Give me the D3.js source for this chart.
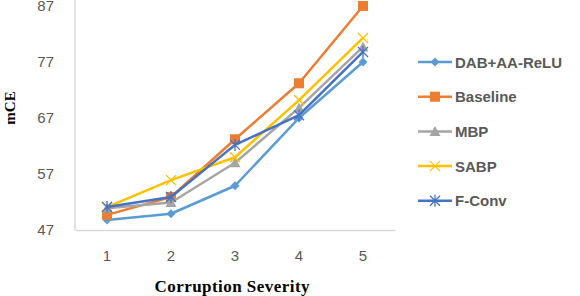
<!DOCTYPE html>
<html>
<head>
<meta charset="utf-8">
<script src="https://cdn.jsdelivr.net/npm/d3@7"></script>
<style>
  body { margin: 0; background: #fff; }
  svg { display: block; }
</style>
</head>
<body>
<svg id="chart" width="580" height="296"></svg>
<script>
// chart data
var severity = ["1", "2", "3", "4", "5"];
var yTicks = [47, 57, 67, 77, 87];
var dabValues = [48.8, 49.9, 54.9, 67.0, 77.0];
var baselineValues = [49.7, 52.9, 63.2, 73.2, 87.0];
var mbpValues = [50.9, 51.9, 59.0, 68.8, 79.7];
var sabpValues = [51.1, 55.9, 60.0, 70.2, 81.3];
var fconvValues = [51.1, 52.9, 62.2, 67.5, 78.8];
var seriesNames = ["DAB+AA-ReLU", "Baseline", "MBP", "SABP", "F-Conv"];

var series = [
  {name: seriesNames[0], values: dabValues, color: "#5B9BD5", marker: "diamond"},
  {name: seriesNames[1], values: baselineValues, color: "#ED7D31", marker: "square"},
  {name: seriesNames[2], values: mbpValues, color: "#A5A5A5", marker: "triangle"},
  {name: seriesNames[3], values: sabpValues, color: "#FFC000", marker: "cross"},
  {name: seriesNames[4], values: fconvValues, color: "#4472C4", marker: "star"}
];

var svg = d3.select("#chart");
var plotLeft = 75, plotRight = 395, plotTop = 6, plotBottom = 230;

var x = d3.scaleBand().domain(severity).range([plotLeft, plotRight]);
var y = d3.scaleLinear().domain([47, 87]).range([plotBottom, plotTop]);

// plot frame: left and bottom lines
svg.append("line")
  .attr("x1", plotLeft).attr("x2", plotLeft).attr("y1", 0).attr("y2", plotBottom)
  .attr("stroke", "#d9d9d9").attr("stroke-width", 1.5);

var xAxis = svg.append("g")
  .attr("transform", "translate(0," + plotBottom + ")")
  .call(d3.axisBottom(x).tickSize(0).tickPadding(20));
xAxis.select(".domain").attr("stroke", "#d9d9d9").attr("stroke-width", 1.5);
xAxis.selectAll("text")
  .attr("fill", "#595959")
  .style("font-family", "'Liberation Sans', Arial, sans-serif")
  .style("font-size", "15px");

var yAxis = svg.append("g")
  .attr("transform", "translate(" + (plotLeft - 21) + ",0)")
  .call(d3.axisLeft(y).tickValues(yTicks).tickSize(0).tickPadding(0));
yAxis.select(".domain").remove();
yAxis.selectAll("text")
  .attr("fill", "#595959")
  .style("font-family", "'Liberation Sans', Arial, sans-serif")
  .style("font-size", "15px");

// axis titles
svg.append("text")
  .attr("transform", "translate(15,108) rotate(-90)")
  .attr("text-anchor", "middle")
  .style("font-family", "'Liberation Serif', 'Times New Roman', serif")
  .style("font-weight", "bold")
  .style("font-size", "15px")
  .text("mCE");

svg.append("text")
  .attr("x", 232)
  .attr("y", 292)
  .attr("text-anchor", "middle")
  .attr("textLength", 155)
  .style("font-family", "'Liberation Serif', 'Times New Roman', serif")
  .style("font-weight", "bold")
  .style("font-size", "17px")
  .text("Corruption  Severity");

function drawMarker(g, type, color) {
  if (type == "diamond") {
    g.append("path").attr("d", "M0,-4.5L4.5,0L0,4.5L-4.5,0Z").attr("fill", color);
  } else if (type == "square") {
    g.append("rect").attr("x", -5).attr("y", -5).attr("width", 10).attr("height", 10).attr("fill", color);
  } else if (type == "triangle") {
    g.append("path").attr("d", "M0,-5.5L5.5,4.5L-5.5,4.5Z").attr("fill", color);
  } else if (type == "cross") {
    g.append("path").attr("d", "M-5,-5L5,5M5,-5L-5,5").attr("stroke", color).attr("stroke-width", 1.3).attr("fill", "none");
  } else {
    g.append("path").attr("d", "M-5,-5L5,5M5,-5L-5,5M0,-6L0,6").attr("stroke", color).attr("stroke-width", 1.3).attr("fill", "none");
  }
}

var line = d3.line()
  .x(function(d, i) { return x(severity[i]) + x.bandwidth() / 2; })
  .y(function(d) { return y(d); });

series.forEach(function(s) {
  svg.append("path")
    .attr("d", line(s.values))
    .attr("fill", "none")
    .attr("stroke", s.color)
    .attr("stroke-width", 2.5)
    .attr("stroke-linejoin", "round");
  s.values.forEach(function(v, i) {
    var g = svg.append("g")
      .attr("transform", "translate(" + (x(severity[i]) + x.bandwidth() / 2) + "," + y(v) + ")");
    drawMarker(g, s.marker, s.color);
  });
});

// legend
var legend = svg.append("g");
series.forEach(function(s, i) {
  var ly = 62 + i * 34.7;
  legend.append("line")
    .attr("x1", 418).attr("x2", 452).attr("y1", ly).attr("y2", ly)
    .attr("stroke", s.color).attr("stroke-width", 2.5);
  var g = legend.append("g").attr("transform", "translate(435," + ly + ")");
  drawMarker(g, s.marker, s.color);
  legend.append("text")
    .attr("x", 455)
    .attr("y", ly + 5.5)
    .attr("fill", "#595959")
    .style("font-family", "'Liberation Sans', Arial, sans-serif")
    .style("font-weight", "bold")
    .style("font-size", "15px")
    .text(s.name);
});
</script>
</body>
</html>
